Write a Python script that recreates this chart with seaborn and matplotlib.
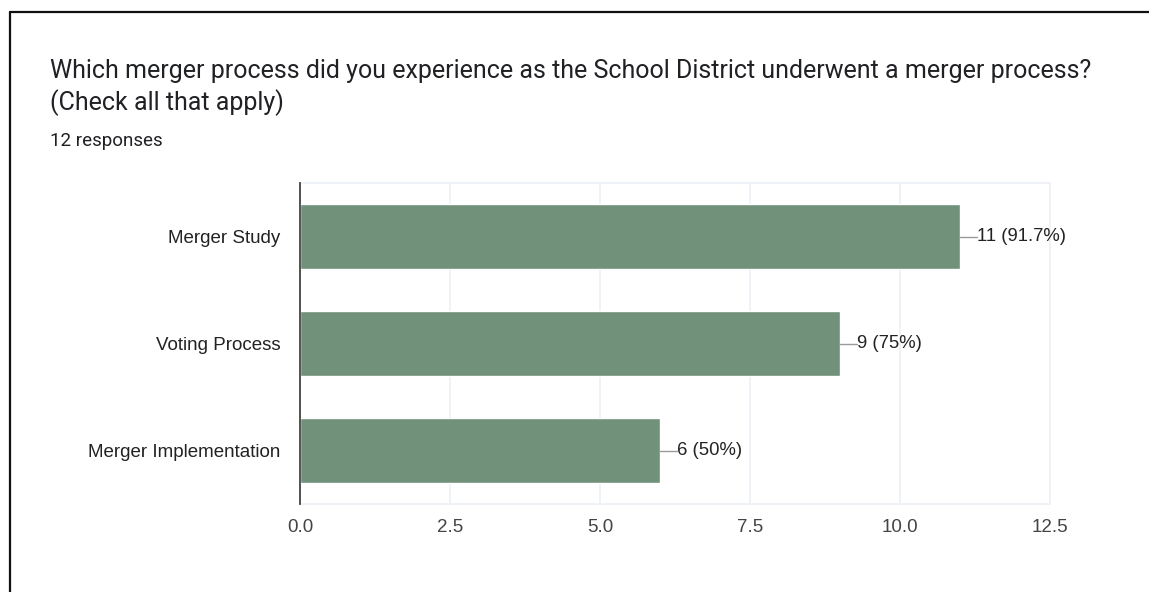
import matplotlib
matplotlib.use("Agg")
import matplotlib.pyplot as plt
from matplotlib.lines import Line2D
import seaborn as sns
import pandas as pd

categories = ["Merger Study", "Voting Process", "Merger Implementation"]
counts = [11, 9, 6]
percent_labels = ["91.7%", "75%", "50%"]
total_responses = 12
x_ticks = [0.0, 2.5, 5.0, 7.5, 10.0, 12.5]

title_text = ("Which merger process did you experience as the School District underwent a merger process?\n"
              "(Check all that apply)")
subtitle_text = f"{total_responses} responses"

bar_color = "#72917a"
grid_color = "#eef1f6"

sns.set_theme(style="white")
plt.rcParams["font.family"] = ["Liberation Sans", "DejaVu Sans"]

df = pd.DataFrame({"category": categories, "count": counts})

fig = plt.figure(figsize=(11.49, 5.92), dpi=100)
ax = fig.add_axes([300 / 1149, 1 - 504 / 592, 750 / 1149, 321 / 592])

sns.barplot(data=df, x="count", y="category", orient="h", color=bar_color,
            width=0.61, saturation=1, ax=ax, zorder=3)

ax.set_xlim(0, 12.5)
ax.set_ylim(2.5, -0.5)
ax.set_xticks(x_ticks)
ax.set_xticklabels([f"{t:.1f}" for t in x_ticks], fontsize=13.5, color="#444444")
ax.tick_params(axis="y", labelsize=13.5, labelcolor="#222222", length=0, pad=14)
ax.tick_params(axis="x", length=0, pad=11)
ax.set_xlabel("")
ax.set_ylabel("")

ax.grid(axis="x", color=grid_color, linewidth=1.3, zorder=0)
for side in ["top", "right", "bottom"]:
    ax.spines[side].set_color(grid_color)
    ax.spines[side].set_linewidth(1.3)
ax.spines["left"].set_color("#444444")
ax.spines["left"].set_linewidth(1.3)
ax.spines["left"].set_zorder(4)

# value labels with short leader lines
for i, (c, p) in enumerate(zip(counts, percent_labels)):
    ax.plot([c, c + 0.28], [i, i], color="#9a9a9a", linewidth=1, zorder=4, clip_on=False)
    ax.text(c + 0.29, i, f"{c} ({p})", va="center", ha="left", fontsize=13.3,
            color="#222222", zorder=5)

fig.text(50 / 1149, 1 - 59 / 592, title_text, ha="left", va="top",
         fontsize=18, family=["Roboto", "DejaVu Sans"], color="#202124",
         linespacing=1.3)
fig.text(50 / 1149, 1 - 132 / 592, subtitle_text, ha="left", va="top",
         fontsize=13.5, family=["Roboto", "DejaVu Sans"], color="#202124")

# page frame
fig.add_artist(Line2D([10 / 1149, 10 / 1149], [0, 1 - 12 / 592],
                      transform=fig.transFigure, color="#111111", linewidth=1.6))
fig.add_artist(Line2D([10 / 1149, 1], [1 - 12 / 592, 1 - 12 / 592],
                      transform=fig.transFigure, color="#111111", linewidth=1.6))

fig.savefig("out.png", dpi=100)
